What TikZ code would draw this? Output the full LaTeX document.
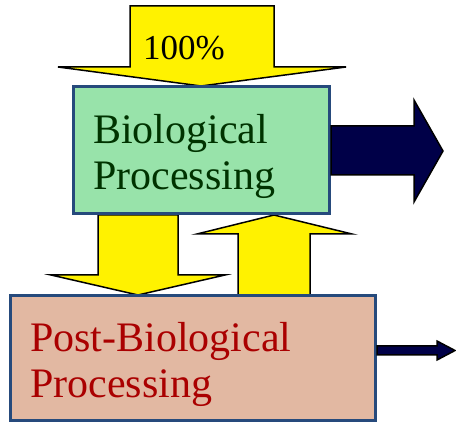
\documentclass[tikz,border=0pt]{standalone}
\usepackage{fontspec}
\setmainfont{Liberation Serif}
\definecolor{boxblue}{RGB}{38,74,124}
\definecolor{biogreen}{RGB}{152,227,170}
\definecolor{postpink}{RGB}{226,184,162}
\definecolor{biotextgreen}{RGB}{0,51,0}
\definecolor{posttextred}{RGB}{170,0,0}
\definecolor{outnavy}{RGB}{0,0,72}
\tikzset{
    procbox/.style={draw=boxblue,line width=3pt,inner sep=0pt},
    proctext/.style={inner sep=0pt,align=left,font=\fontsize{42}{47}\selectfont},
    yarrow/.style={draw=black,fill=yellow,line width=1.5pt,line join=miter},
    narrow/.style={draw=black,fill=outnavy,line width=1.5pt,line join=miter}
}

\begin{document}
\begin{tikzpicture}[x=1pt,y=-1pt]
    \useasboundingbox (0,0) rectangle (456,425);
    % arrows between the boxes
    \draw[yarrow] (130,6) -- (274,6) -- (274,67) -- (346,67) -- (201,86)
        -- (58,67) -- (130,67) -- cycle;
    \draw[yarrow] (98,215) -- (178,215) -- (178,275) -- (225,275) -- (138,295)
        -- (51,275) -- (98,275) -- cycle;
    \draw[yarrow] (238,295) -- (238,234) -- (197,234) -- (274,215) -- (352,234)
        -- (310,234) -- (310,295) -- cycle;
    % boxes
    \node[procbox,fill=biogreen,minimum width=256pt,minimum height=127pt] (bio) at (201.5,150) {};
    \node[procbox,fill=postpink,minimum width=365pt,minimum height=125pt] (post) at (193,358) {};
    % base anchor sits on the last line
    \node[proctext,text=biotextgreen,anchor=base west] (biolabel) at (93,190) {Biological\\Processing};
    \node[proctext,text=posttextred,anchor=base west,font=\fontsize{42}{46}\selectfont] (postlabel) at (30,397) {Post-Biological\\Processing};
    \node[inner sep=0pt,anchor=base west,font=\fontsize{35}{40}\selectfont] (inlabel) at (143,60) {100\%};
    % outputs
    \draw[narrow] (bio.east |- 0,126) -- (414,126) -- (414,100) -- (443,151)
        -- (414,202) -- (414,175) -- (bio.east |- 0,175) -- cycle;
    \draw[narrow] (post.east |- 0,346) -- (437,346) -- (437,341) -- (455,350.5)
        -- (437,360) -- (437,355) -- (post.east |- 0,355) -- cycle;
\end{tikzpicture}
\end{document}
